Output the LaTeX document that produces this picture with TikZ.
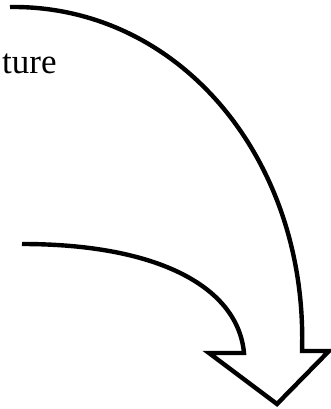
\documentclass[tikz,border=0pt]{standalone}
\usepackage{fontspec}
\setmainfont{Liberation Serif}
\usepackage{tikz}

\begin{document}
\begin{tikzpicture}[x=1pt,y=-1pt,line width=4.4pt,line join=miter]
  \useasboundingbox (0,0) rectangle (331,409);
  % label, cut at the left edge
  \node[anchor=base west,inner sep=0pt,font=\fontsize{35}{40}\selectfont] (lbl) at (0,74) {ture};
  % corners of the arrow
  \coordinate (outtop) at (10,7);
  \coordinate (outbot) at (302,351);
  \coordinate (rcorner) at (329,351);
  \coordinate (tip) at (277,404);
  \coordinate (lcorner) at (209,353);
  \coordinate (inbot) at (244,353);
  \coordinate (intop) at (22,244);
  % curved arrow
  \draw (outtop) .. controls (180,5) and (308,160) .. (outbot)
    -- (rcorner) -- (tip) -- (lcorner) -- (inbot)
    .. controls (238,288) and (160,244) .. (intop);
\end{tikzpicture}
\end{document}
